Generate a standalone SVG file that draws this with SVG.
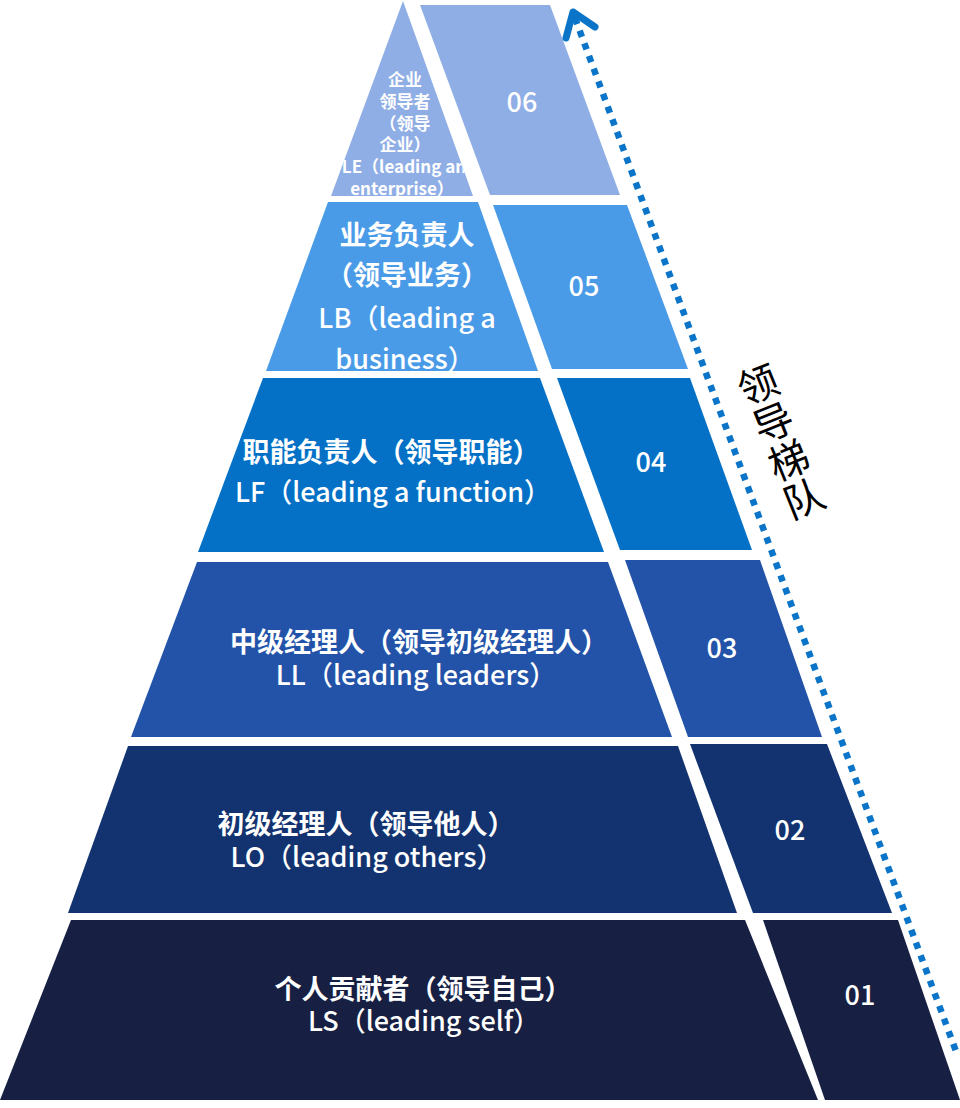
<svg xmlns="http://www.w3.org/2000/svg" width="960" height="1108" viewBox="0 0 960 1108">
<style>
.lbl{font-family:"Noto Sans CJK SC","Noto Sans",sans-serif;fill:#ffffff;text-anchor:middle;dominant-baseline:central;}
.zh{font-size:27px;font-weight:bold;}
.en{font-size:27px;font-weight:500;}
.sm{font-size:17px;font-weight:bold;}
.num{font-family:"Noto Sans CJK SC","Noto Sans",sans-serif;font-size:27px;fill:#ffffff;text-anchor:middle;dominant-baseline:central;font-weight:500;}
.side{font-family:"Noto Sans CJK SC","Noto Sans",sans-serif;font-size:40px;fill:#000000;text-anchor:middle;dominant-baseline:central;}
.t6{fill:#8FAEE5;}
.t5{fill:#4A9BE7;}
.t4{fill:#0571C6;}
.t3{fill:#2353A8;}
.t2{fill:#12336F;}
.t1{fill:#172043;}
</style>
<defs>
<clipPath id="clip6"><polygon points="403,1 331,196 473,196"/></clipPath>
</defs>
<rect width="960" height="1108" fill="#ffffff"/>

<g id="tier6-label">
<polygon class="t6" points="403,1 331,196 473,196"/>
<g clip-path="url(#clip6)">
<text class="lbl sm" x="405" y="78">企业</text>
<text class="lbl sm" x="405" y="100">领导者</text>
<text class="lbl sm" x="405" y="122">（领导</text>
<text class="lbl sm" x="405" y="143">企业）</text>
<text class="lbl sm" x="404" y="165">LE（leading an</text>
<text class="lbl sm" x="402" y="187">enterprise）</text>
</g>
</g>
<g id="tier6-num">
<polygon class="t6" points="420,5 550,5 620,195 490,195"/>
<text class="num" x="522" y="100">06</text>
</g>

<g id="tier5-label">
<polygon class="t5" points="328,202 478,202 538,371 266,371"/>
<text class="lbl zh" x="407" y="233">业务负责人</text>
<text class="lbl zh" x="407" y="273">（领导业务）</text>
<text class="lbl en" x="407" y="316">LB（leading a</text>
<text class="lbl en" x="405" y="357">business）</text>
</g>
<g id="tier5-num">
<polygon class="t5" points="493,205 627,205 688,369 552,369"/>
<text class="num" x="584" y="284">05</text>
</g>

<g id="tier4-label">
<polygon class="t4" points="263,378 540,378 604,552 198,552"/>
<text class="lbl zh" x="391" y="450">职能负责人（领导职能）</text>
<text class="lbl en" x="393" y="490">LF（leading a function）</text>
</g>
<g id="tier4-num">
<polygon class="t4" points="557,378 690,378 752,550 620,550"/>
<text class="num" x="651" y="460">04</text>
</g>

<g id="tier3-label">
<polygon class="t3" points="197,562 608,562 672,737 131,737"/>
<text class="lbl zh" x="419" y="640">中级经理人（领导初级经理人）</text>
<text class="lbl en" x="416" y="673">LL（leading leaders）</text>
</g>
<g id="tier3-num">
<polygon class="t3" points="625,560 760,560 822,737 688,737"/>
<text class="num" x="722" y="646">03</text>
</g>

<g id="tier2-label">
<polygon class="t2" points="128,746 678,746 737,913 68,913"/>
<text class="lbl zh" x="366" y="822">初级经理人（领导他人）</text>
<text class="lbl en" x="367" y="855">LO（leading others）</text>
</g>
<g id="tier2-num">
<polygon class="t2" points="690,744 827,744 892,913 753,913"/>
<text class="num" x="790" y="828">02</text>
</g>

<g id="tier1-label">
<polygon class="t1" points="71,920 745,920 818,1100 0,1100"/>
<text class="lbl zh" x="423" y="987">个人贡献者（领导自己）</text>
<text class="lbl en" x="424" y="1019">LS（leading self）</text>
</g>
<g id="tier1-num">
<polygon class="t1" points="763,920 898,920 960,1100 825,1100"/>
<text class="num" x="860" y="993">01</text>
</g>

<g id="connectors">
<line x1="575" y1="18" x2="957" y2="1054" stroke="#0A74C8" stroke-width="6.5" stroke-dasharray="6.5 7"/>
<polyline points="566,38 573,12 595,27" fill="none" stroke="#0A74C8" stroke-width="7" stroke-linecap="round" stroke-linejoin="round"/>
</g>

<g id="side-label" transform="translate(780,439) rotate(-22)">
<text class="side" x="0" y="-61">领</text>
<text class="side" x="0" y="-20">导</text>
<text class="side" x="0" y="21">梯</text>
<text class="side" x="0" y="62">队</text>
</g>
</svg>
